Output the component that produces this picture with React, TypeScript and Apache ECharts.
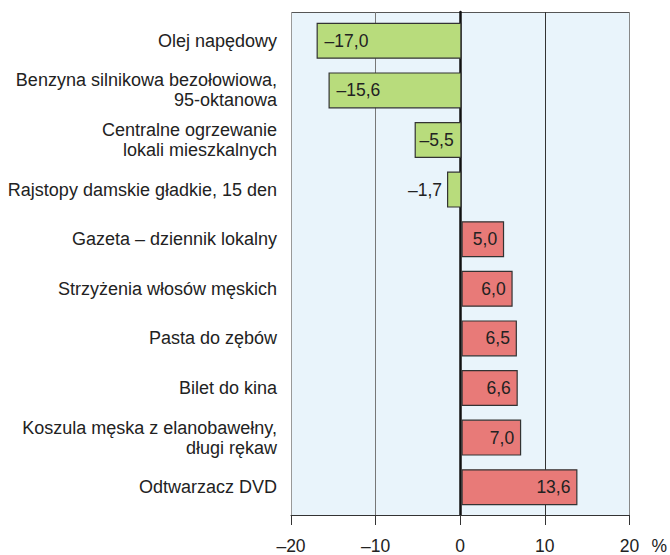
import React, { useEffect, useRef } from "react";
import * as echarts from "echarts";

const categories = [
  "Olej napędowy",
  "Benzyna silnikowa bezołowiowa,\n95-oktanowa",
  "Centralne ogrzewanie\nlokali mieszkalnych",
  "Rajstopy damskie gładkie, 15 den",
  "Gazeta – dziennik lokalny",
  "Strzyżenia włosów męskich",
  "Pasta do zębów",
  "Bilet do kina",
  "Koszula męska z elanobawełny,\ndługi rękaw",
  "Odtwarzacz DVD",
];
const values = [-17.0, -15.6, -5.5, -1.7, 5.0, 6.0, 6.5, 6.6, 7.0, 13.6];
const xTicks = [-20, -10, 0, 10, 20];

const fmt = (v: number) => {
  const s = Math.abs(v).toFixed(1).replace(".", ",");
  return v < 0 ? "\u2013" + s : s;
};

export default function App() {
  const ref = useRef<HTMLDivElement>(null);
  useEffect(() => {
    if (!ref.current) return;
    const chart = echarts.init(ref.current, undefined, { renderer: "svg" });
    const font = "'Liberation Sans', Arial, sans-serif";
    const fs = 17.5;
    const data = values.map((v) => {
      let label: any;
      if (v < 0 && v > -3) {
        label = { position: "left", distance: 5 };
      } else if (v < 0) {
        label = { position: "insideLeft", distance: v < -10 ? 8 : 5 };
      } else {
        label = { position: "insideRight", distance: 7 };
      }
      return {
        value: v,
        itemStyle: { color: v < 0 ? "#b8dc7c" : "#e87a78" },
        label,
      };
    });
    chart.setOption({
      animation: false,
      grid: [
        {
          left: 291,
          right: 38,
          top: 12,
          bottom: 38,
          show: true,
          backgroundColor: "#e9f4fb",
          borderWidth: 0,
        },
        { left: 291, right: 38, top: 16, bottom: 43 },
      ],
      xAxis: [
        {
          type: "value",
          gridIndex: 0,
          min: xTicks[0],
          max: xTicks[xTicks.length - 1],
          interval: 10,
          axisLine: { show: true, onZero: false, lineStyle: { color: "#333", width: 1 } },
          axisTick: { show: true, length: 10, lineStyle: { color: "#333" } },
          axisLabel: {
            margin: 22,
            fontSize: fs,
            color: "#222",
            fontFamily: font,
            formatter: (v: number) => (v < 0 ? "\u2013" + Math.abs(v) : String(v)),
          },
          splitLine: {
            show: true,
            lineStyle: { color: ["#999", "#777", "#222", "#333", "#888"], width: 1 },
          },
          name: "%",
          nameLocation: "end",
          nameGap: 22,
          nameTextStyle: {
            fontSize: fs,
            color: "#222",
            fontFamily: font,
            verticalAlign: "top",
            padding: [22, 0, 0, 0],
          },
        },
        {
          type: "value",
          gridIndex: 1,
          min: xTicks[0],
          max: xTicks[xTicks.length - 1],
          interval: 10,
          show: false,
        },
      ],
      yAxis: [
        {
          type: "value",
          gridIndex: 0,
          min: 0,
          max: 1,
          interval: 1,
          axisLabel: { show: false },
          axisTick: { show: false },
          axisLine: { show: true, onZero: true, lineStyle: { color: "#111", width: 2.5 } },
          splitLine: { show: true, lineStyle: { color: "#555", width: 1 } },
        },
        {
          type: "category",
          gridIndex: 1,
          data: categories,
          inverse: true,
          axisLine: { show: false, onZero: false },
          axisTick: { show: false },
          splitLine: { show: false },
          axisLabel: {
            margin: 14,
            fontSize: 18,
            lineHeight: 20,
            color: "#222",
            fontFamily: font,
            align: "right",
          },
        },
      ],
      series: [
        {
          type: "bar",
          xAxisIndex: 1,
          yAxisIndex: 1,
          data,
          barWidth: 36,
          itemStyle: { borderColor: "#333", borderWidth: 1.2 },
          label: {
            show: true,
            fontSize: fs,
            color: "#222",
            fontFamily: font,
            formatter: (p: any) => fmt(p.value),
          },
          z: 1,
        },
      ],
    });
    return () => chart.dispose();
  }, []);
  return (
    <div
      ref={ref}
      style={{ position: "fixed", left: 0, top: 0, width: 670, height: 555, background: "#fff" }}
    />
  );
}
